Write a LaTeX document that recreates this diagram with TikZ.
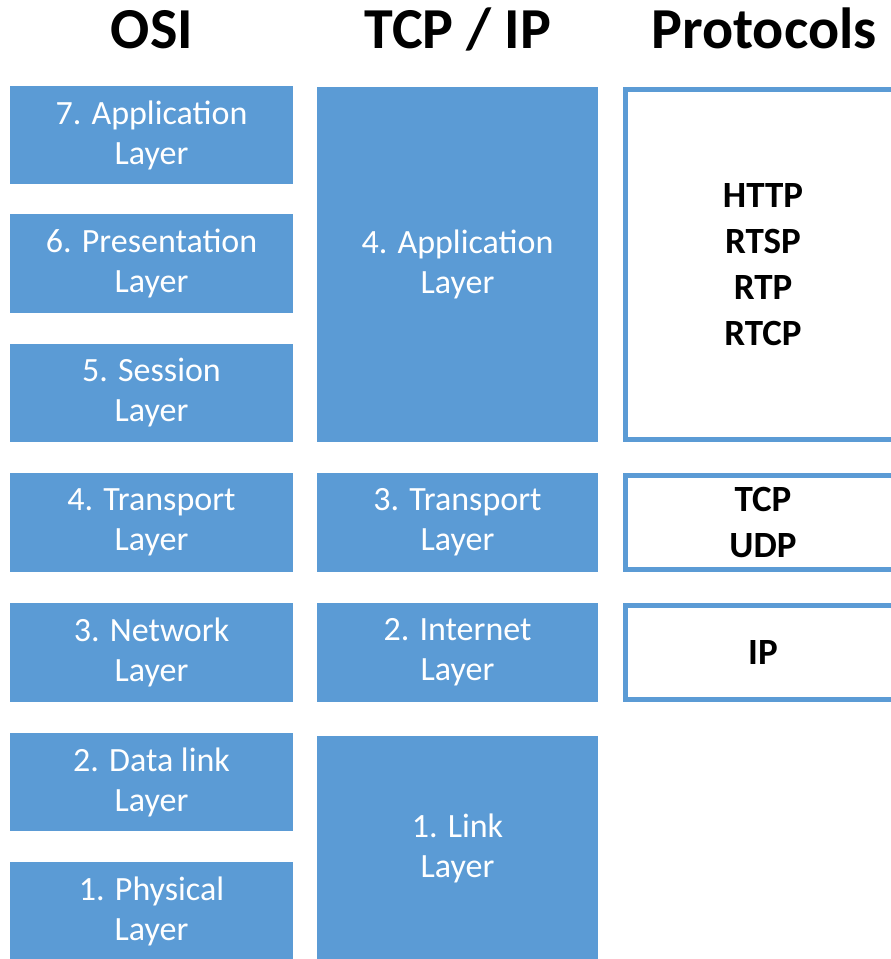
\documentclass[tikz,border=0pt]{standalone}
\usepackage{fontspec}
\setmainfont{Carlito}
\usepackage{tikz}

\definecolor{layerblue}{HTML}{5B9BD5}

\tikzset{
  layerbox/.style={fill=layerblue, text=white, align=center, inner sep=0pt,
    font=\fontsize{34}{40}\selectfont},
  protobox/.style={draw=layerblue, line width=5pt, fill=white, align=center,
    inner sep=0pt, minimum width=275pt, font=\fontsize{37}{46}\selectfont\bfseries},
  headline/.style={anchor=base, font=\fontsize{58}{60}\selectfont\bfseries}
}

\begin{document}
\begin{tikzpicture}[x=1pt, y=-1pt]
        \clip (0,0) rectangle (891,959);
        \fill[white] (0,0) rectangle (891,959);

        % Column titles
        \node[headline] (osititle) at (152,48) {OSI};
        \node[headline] (tcptitle) at (458,48) {TCP / IP};
        \node[headline] (prototitle) at (764,48) {Protocols};

        % OSI model layers
        \node[layerbox, minimum width=283pt, minimum height=98pt] (osi7) at (151.5,135) {7. Application\\Layer};
        \node[layerbox, minimum width=283pt, minimum height=99pt] (osi6) at (151.5,263.5) {6. Presentation\\Layer};
        \node[layerbox, minimum width=283pt, minimum height=98pt] (osi5) at (151.5,393) {5. Session\\Layer};
        \node[layerbox, minimum width=283pt, minimum height=99pt] (osi4) at (151.5,522.5) {4. Transport\\Layer};
        \node[layerbox, minimum width=283pt, minimum height=99pt] (osi3) at (151.5,652.5) {3. Network\\Layer};
        \node[layerbox, minimum width=283pt, minimum height=98pt] (osi2) at (151.5,782) {2. Data link\\Layer};
        \node[layerbox, minimum width=283pt, minimum height=98pt] (osi1) at (151.5,911) {1. Physical\\Layer};

        % TCP/IP model layers
        \node[layerbox, minimum width=281pt, minimum height=355pt] (tcp4) at (457.5,264.5) {4. Application\\Layer};
        \node[layerbox, minimum width=281pt, minimum height=99pt] (tcp3) at (457.5,522.5) {3. Transport\\Layer};
        \node[layerbox, minimum width=281pt, minimum height=99pt] (tcp2) at (457.5,652.5) {2. Internet\\Layer};
        \node[layerbox, minimum width=281pt, minimum height=224pt] (tcp1) at (457.5,848) {1. Link\\Layer};

        % Protocols for each layer
        \node[protobox, minimum height=350pt] (proto4) at (763,264.5) {HTTP\\RTSP\\RTP\\RTCP};
        \node[protobox, minimum height=94pt] (proto3) at (763,522.5) {TCP\\UDP};
        \node[protobox, minimum height=94pt] (proto2) at (763,652.5) {IP};
    \end{tikzpicture}
\end{document}
